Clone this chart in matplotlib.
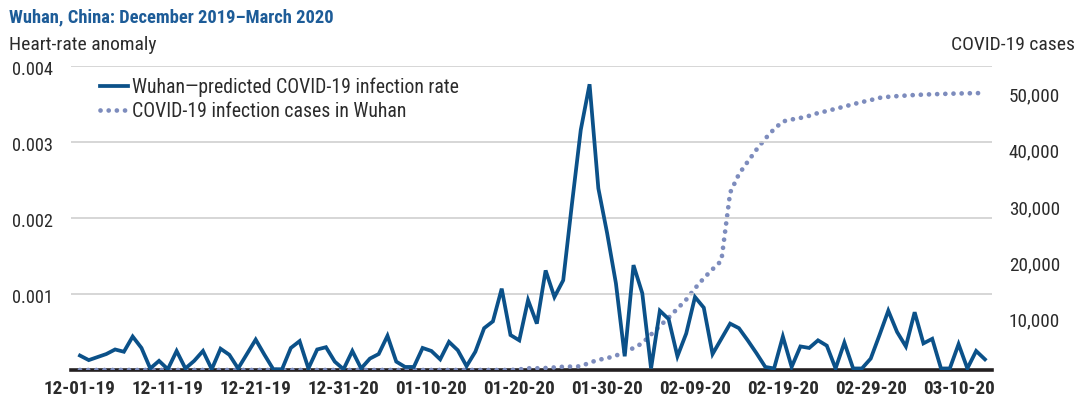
import matplotlib
matplotlib.use("Agg")
import matplotlib.pyplot as plt
import matplotlib.transforms as mtransforms
import pandas as pd

# ------------------------------ data ------------------------------

start_date = "2019-12-01"

tick_labels = ["12-01-19", "12-11-19", "12-21-19", "12-31-20", "01-10-20", "01-20-20",
               "01-30-20", "02-09-20", "02-19-20", "02-29-20", "03-10-20"]

# daily heart-rate anomaly, Dec 1 2019 .. Mar 13 2020
anomaly = [
    0.00019, 0.00013, 0.00017, 0.00021, 0.00027, 0.00024, 0.00044, 0.00029, 0.00002, 0.00012,
    0.00001, 0.00025, 0.00002, 0.00012, 0.00025, 0.00001, 0.00028, 0.00020, 0.00002, 0.00021,
    0.00040, 0.00020, 0.00001, 0.00001, 0.00029, 0.00038, 0.00002, 0.00027, 0.00030, 0.00011,
    0.00001, 0.00025, 0.00002, 0.00015, 0.00021, 0.00045, 0.00011, 0.00004, 0.00004, 0.00029,
    0.00025, 0.00014, 0.00037, 0.00026, 0.00005, 0.00024, 0.00055, 0.00064, 0.00107, 0.00046,
    0.00039, 0.00092, 0.00061, 0.00131, 0.00096, 0.00118, 0.00219, 0.00316, 0.00376, 0.00239,
    0.00180, 0.00114, 0.00018, 0.00138, 0.00101, 0.00002, 0.00078, 0.00067, 0.00018, 0.00048,
    0.00096, 0.00082, 0.00021, 0.00041, 0.00061, 0.00055, 0.00039, 0.00022, 0.00004, 0.00002,
    0.00044, 0.00004, 0.00031, 0.00029, 0.00039, 0.00032, 0.00002, 0.00036, 0.00002, 0.00002,
    0.00015, 0.00046, 0.00078, 0.00050, 0.00031, 0.00076, 0.00035, 0.00041, 0.00002, 0.00002,
    0.00034, 0.00002, 0.00025, 0.00014,
]

# cumulative COVID-19 cases in Wuhan, same days
cases = [
    0, 0, 0, 0, 0, 0, 0, 0, 0, 0,
    0, 0, 0, 0, 0, 0, 0, 0, 0, 0,
    0, 0, 0, 0, 0, 0, 0, 0, 0, 0,
    0, 0, 0, 0, 0, 0, 0, 0, 0, 0,
    0, 0, 0, 0, 0, 0, 0, 0, 0, 0,
    100, 300, 300, 350, 450, 580, 600, 650, 1300, 1800,
    2100, 2550, 3200, 3900, 4750, 6300, 7800, 9300, 10900, 12500,
    14500, 16300, 17900, 19400, 31500, 34800, 37000, 39150, 41100, 42800,
    44150, 44500, 44780, 45150, 45650, 46000, 46400, 46800, 47220, 47600,
    47950, 48350, 48530, 48650, 48750, 48850, 48920, 48980, 49030, 49080,
    49120, 49150, 49180, 49200,
]

left_ticks = [0.001, 0.002, 0.003, 0.004]
right_ticks = [10000, 20000, 30000, 40000, 50000]

BLUE = "#0b5189"
DOTS = "#7d8cbd"
TITLE = "#1d5c98"
TEXT = "#2b2b2b"

plt.rcParams["font.family"] = ["Roboto Condensed", "DejaVu Sans"]

dates = pd.date_range(start_date, periods=len(anomaly), freq="D")

fig = plt.figure(figsize=(10.84, 4.04), dpi=100)
ax = fig.add_axes([0.0655, 0.0842, 0.8496, 0.7524])
ax2 = ax.twinx()

ax.set_zorder(ax2.get_zorder() + 1)
ax.patch.set_visible(False)

ax2.axhline(0, color="#231f20", lw=2.6, zorder=1, clip_on=False)
ax2.plot(dates, cases, color=DOTS, lw=3.4, linestyle=(0, (0.01, 1.72)),
         dash_capstyle="round", zorder=2, label="COVID-19 infection cases in Wuhan")
ax.plot(dates, anomaly, color=BLUE, lw=2.7, solid_joinstyle="miter",
        label="Wuhan\u2014predicted COVID-19 infection rate")

day = pd.Timedelta(days=1)
ax.set_xlim(dates[0] - 1.02 * day, dates[-1] + 0.8 * day)
ax.set_ylim(0, 0.004)
ax2.set_ylim(0, 54000)

ax.set_xticks(dates[::10])
ax.set_xticklabels(tick_labels, fontsize=13.8, fontweight="bold", color=TEXT)
ax.set_yticks(left_ticks)
ax.set_yticklabels([f"{t:.3f}" for t in left_ticks], fontsize=13.2, color=TEXT)
ax2.set_yticks(right_ticks)
ax2.set_yticklabels([f"{t:,}" for t in right_ticks], fontsize=13.8, color=TEXT)

ax.tick_params(axis="both", length=0)
ax.tick_params(axis="y", pad=13)
ax.tick_params(axis="x", pad=7)
ax2.tick_params(axis="y", length=0, pad=12)

# the original's labels sit a little below their gridlines
shift_l = mtransforms.ScaledTranslation(0, -2 / 100, fig.dpi_scale_trans)
shift_r = mtransforms.ScaledTranslation(0, -6 / 100, fig.dpi_scale_trans)
for lbl in ax.get_yticklabels():
    lbl.set_transform(lbl.get_transform() + shift_l)
for lbl in ax2.get_yticklabels():
    lbl.set_transform(lbl.get_transform() + shift_r)

ax.grid(axis="y", color="#cfcfcf", lw=1.2)
ax.grid(axis="x", visible=False)
ax2.grid(False)
for a in (ax, ax2):
    for side in ("top", "left", "right", "bottom"):
        a.spines[side].set_visible(False)

h1, l1 = ax.get_legend_handles_labels()
h2, l2 = ax2.get_legend_handles_labels()
ax.legend(h1 + h2, l1 + l2, loc="upper left", bbox_to_anchor=(0.031, 0.962),
          frameon=False, fontsize=14.2, handlelength=1.45, handletextpad=0.2,
          labelspacing=0.25, borderpad=0, borderaxespad=0, labelcolor=TEXT)

fig.text(0.008, 0.957, "Wuhan, China: December 2019\u2013March 2020", fontsize=13.3,
         fontweight="bold", color=TITLE, va="center", ha="left")
fig.text(0.008, 0.888, "Heart-rate anomaly", fontsize=14, color=TEXT, va="center", ha="left")
fig.text(0.992, 0.888, "COVID-19 cases", fontsize=14, color=TEXT, va="center", ha="right")

fig.savefig("out.png", dpi=100)
plt.close(fig)
